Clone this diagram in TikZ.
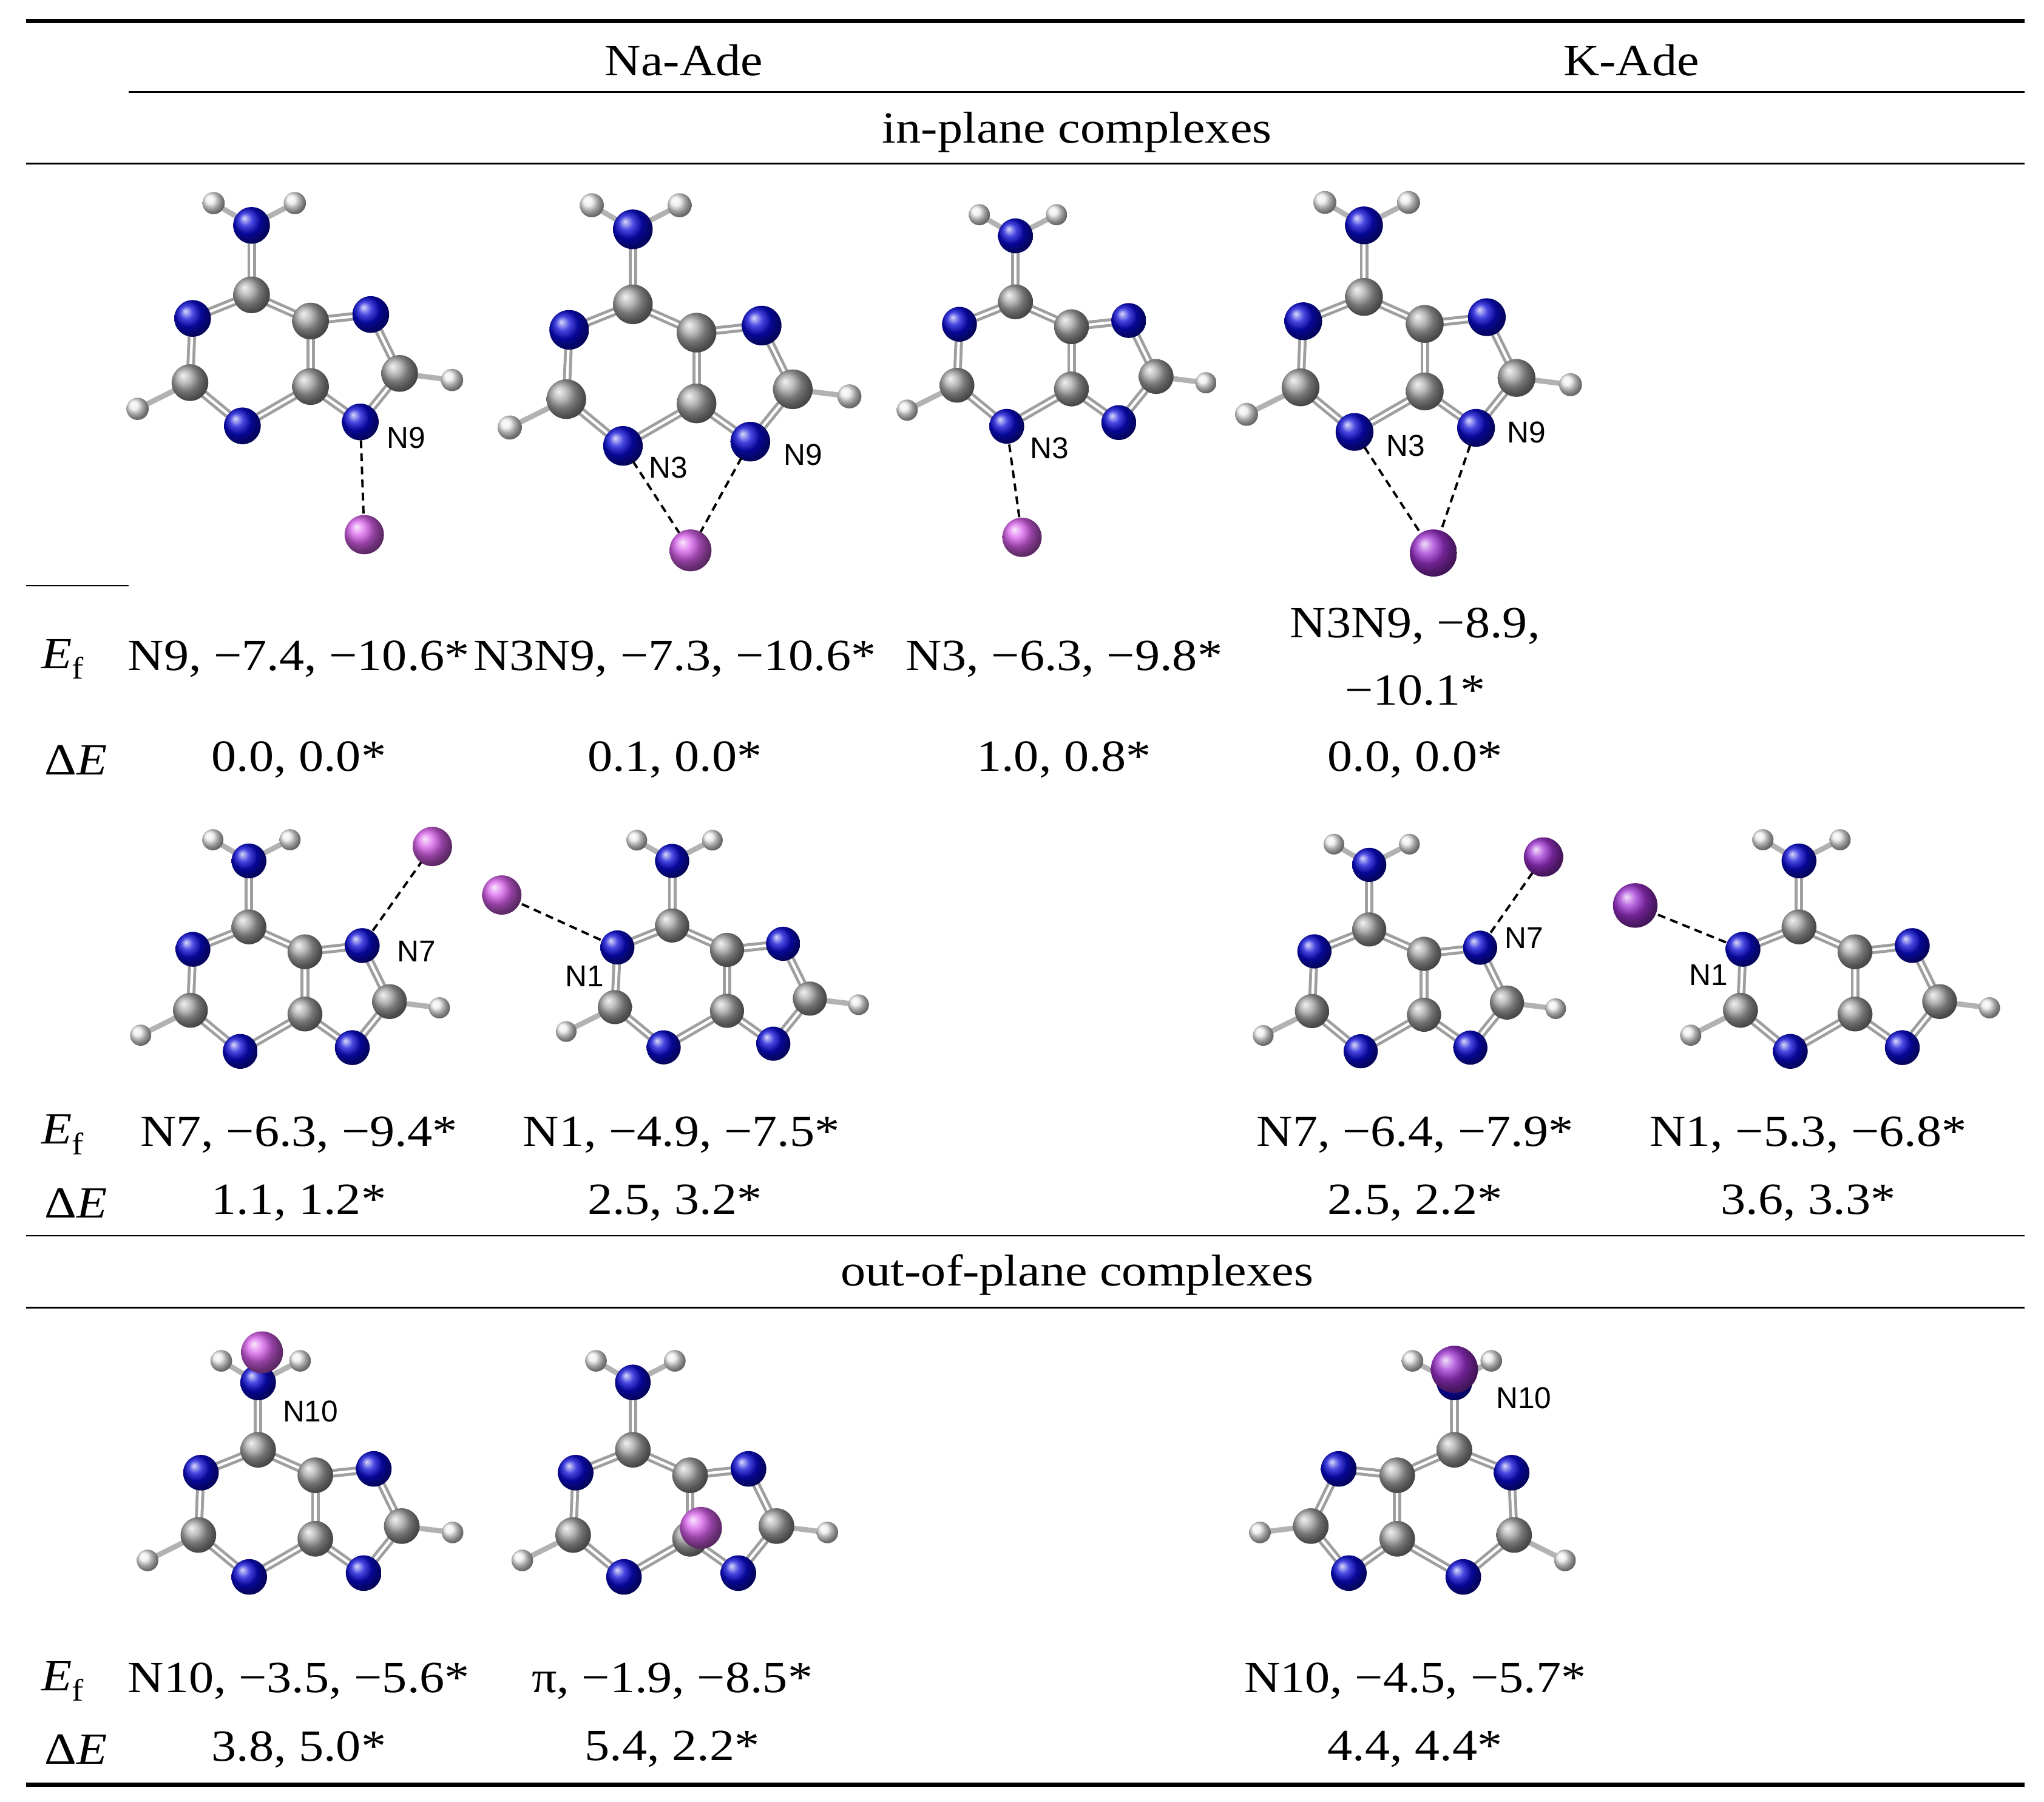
\documentclass[tikz,border=0pt]{standalone}
\usepackage{fontspec}
\setmainfont{Liberation Serif}[FakeStretch=1.12]
\setsansfont{Liberation Sans}
\begin{document}
\begin{tikzpicture}[x=1pt,y=-1pt,
 bd/.style={line width=6.5pt,draw=gray!75,line cap=round},
 bdi/.style={line width=2pt,draw=white},
 bh/.style={line width=4pt,draw=gray!60},
 lab/.style={font=\sffamily\fontsize{23}{26}\selectfont,inner sep=0},
 txt/.style={font=\fontsize{34}{38}\selectfont,inner sep=0},
 hd/.style={line width=3pt},
 rl/.style={line width=1.3pt},
 co/.style={dash pattern=on 6pt off 4pt,line width=1.8pt,shorten >=14pt,shorten <=14pt}]
\definecolor{Nb}{RGB}{10,10,215}
\definecolor{Na}{RGB}{215,95,235}
\definecolor{Kb}{RGB}{160,50,210}
\newcommand\adn[4]{%
\begin{scope}[shift={(#2,#3)},#4]
\coordinate (#1Ha) at (-29,-17); \coordinate (#1Hb) at (33,-17);
\coordinate (#1N6) at (0,0); \coordinate (#1C6) at (0,53);
\coordinate (#1N1) at (-45,71); \coordinate (#1C5) at (45,73);
\coordinate (#1N7) at (91,68); \coordinate (#1C2) at (-47,120);
\coordinate (#1H2) at (-87,140); \coordinate (#1C4) at (45,123);
\coordinate (#1N3) at (-7,153); \coordinate (#1C8) at (113,113);
\coordinate (#1H8) at (153,118); \coordinate (#1N9) at (83,150);
\foreach \a/\b in {N6/Ha,N6/Hb,C2/H2,C8/H8}{\draw[bh] (#1\a)--(#1\b);}
\foreach \a/\b in {C6/N6,C6/N1,N1/C2,C2/N3,N3/C4,C4/C5,C5/C6,C5/N7,N7/C8,C8/N9,N9/C4}{\draw[bd] (#1\a)--(#1\b); \draw[bdi] (#1\a)--(#1\b);}
\foreach \h in {Ha,Hb,H2,H8}{\shade[ball color=gray!15] (#1\h) circle (8.5);}
\foreach \c in {C6,C5,C2,C4,C8}{\shade[ball color=gray!70] (#1\c) circle (14);}
\foreach \n in {N6,N1,N7,N3,N9}{\shade[ball color=Nb] (#1\n) circle (14);}
\end{scope}}
\useasboundingbox (0,0) rectangle (1560,1375);
% rules
\draw[hd] (20,16)--(1545,16);
\draw[rl] (98,70)--(1545,70);
\draw[rl] (20,125)--(1545,125);
\draw[rl] (20,447)--(98,447);
\draw[rl] (20,943)--(1545,943);
\draw[rl] (20,998)--(1545,998);
\draw[hd] (20,1362)--(1545,1362);
\node[txt] at (522,46) {Na-Ade};
\node[txt] at (1245,46) {K-Ade};
\node[txt] at (822,101) {in-plane complexes};
\node[txt] at (822,973) {out-of-plane complexes};
% molecules row 1
\adn{a}{192}{172}{}
\coordinate (ma) at (278,408); \draw[co] (aN9)--(ma); \shade[ball color=Na] (ma) circle (15);
\node[lab] at (310,334) {N9};
\adn{b}{483}{175}{scale=1.08}
\coordinate (mb) at (527,420); \draw[co] (bN3)--(mb); \draw[co] (bN9)--(mb); \shade[ball color=Na] (mb) circle (16);
\node[lab] at (510,357) {N3}; \node[lab] at (613,347) {N9};
\adn{c}{775}{180}{scale=0.95}
\coordinate (mc) at (780,410); \draw[co] (cN3)--(mc); \shade[ball color=Na] (mc) circle (15);
\node[lab] at (801,342) {N3};
\adn{d}{1041}{172}{scale=1.03}
\coordinate (md) at (1094,422); \draw[co] (dN3)--(md); \draw[co] (dN9)--(md); \shade[ball color=Kb] (md) circle (18);
\node[lab] at (1073,340) {N3}; \node[lab] at (1165,330) {N9};
% row 2
\adn{e}{190}{657}{scale=0.95}
\coordinate (me) at (330,646); \draw[co] (eN7)--(me); \shade[ball color=Na] (me) circle (15);
\node[lab] at (318,726) {N7};
\adn{f}{513}{657}{scale=0.93}
\coordinate (mf) at (383,683); \draw[co] (fN1)--(mf); \shade[ball color=Na] (mf) circle (15);
\node[lab] at (446,745) {N1};
\adn{g}{1045}{660}{scale=0.93}
\coordinate (mg) at (1178,654); \draw[co] (gN7)--(mg); \shade[ball color=Kb] (mg) circle (15);
\node[lab] at (1163,716) {N7};
\adn{h}{1373}{657}{scale=0.95}
\coordinate (mh) at (1248,691); \draw[co] (hN1)--(mh); \shade[ball color=Kb] (mh) circle (17);
\node[lab] at (1304,744) {N1};
% row 3
\adn{i}{197}{1055}{scale=0.97}
\coordinate (mi) at (200,1032); \shade[ball color=Na] (mi) circle (16);
\node[lab] at (237,1077) {N10};
\adn{j}{483}{1055}{scale=0.97}
\coordinate (mj) at (535,1166); \shade[ball color=Na] (mj) circle (16);
\adn{k}{1110}{1055}{xscale=-0.97,yscale=0.97}
\coordinate (mk) at (1110,1045); \shade[ball color=Kb] (mk) circle (18);
\node[lab] at (1163,1067) {N10};
% texts
\node[txt] at (48,503) {\textit{E}\textsubscript{f}};
\node[txt] at (48,866) {\textit{E}\textsubscript{f}};
\node[txt] at (48,1283) {\textit{E}\textsubscript{f}};
\node[txt] at (58,580) {Δ\textit{E}};
\node[txt] at (58,918) {Δ\textit{E}};
\node[txt] at (58,1335) {Δ\textit{E}};
\node[txt] at (228,503) {N9, −7.4, −10.6*};
\node[txt] at (515,503) {N3N9, −7.3, −10.6*};
\node[txt] at (812,503) {N3, −6.3, −9.8*};
\node[txt] at (1080,478) {N3N9, −8.9,};
\node[txt] at (1080,527) {−10.1*};
\node[txt] at (228,580) {0.0, 0.0*};
\node[txt] at (515,580) {0.1, 0.0*};
\node[txt] at (812,580) {1.0, 0.8*};
\node[txt] at (1080,580) {0.0, 0.0*};
\node[txt] at (228,866) {N7, −6.3, −9.4*};
\node[txt] at (520,866) {N1, −4.9, −7.5*};
\node[txt] at (1080,866) {N7, −6.4, −7.9*};
\node[txt] at (1380,866) {N1, −5.3, −6.8*};
\node[txt] at (228,918) {1.1, 1.2*};
\node[txt] at (515,918) {2.5, 3.2*};
\node[txt] at (1080,918) {2.5, 2.2*};
\node[txt] at (1380,918) {3.6, 3.3*};
\node[txt] at (228,1283) {N10, −3.5, −5.6*};
\node[txt] at (513,1283) {π, −1.9, −8.5*};
\node[txt] at (1080,1283) {N10, −4.5, −5.7*};
\node[txt] at (228,1335) {3.8, 5.0*};
\node[txt] at (513,1335) {5.4, 2.2*};
\node[txt] at (1080,1335) {4.4, 4.4*};
\end{tikzpicture}
\end{document}
